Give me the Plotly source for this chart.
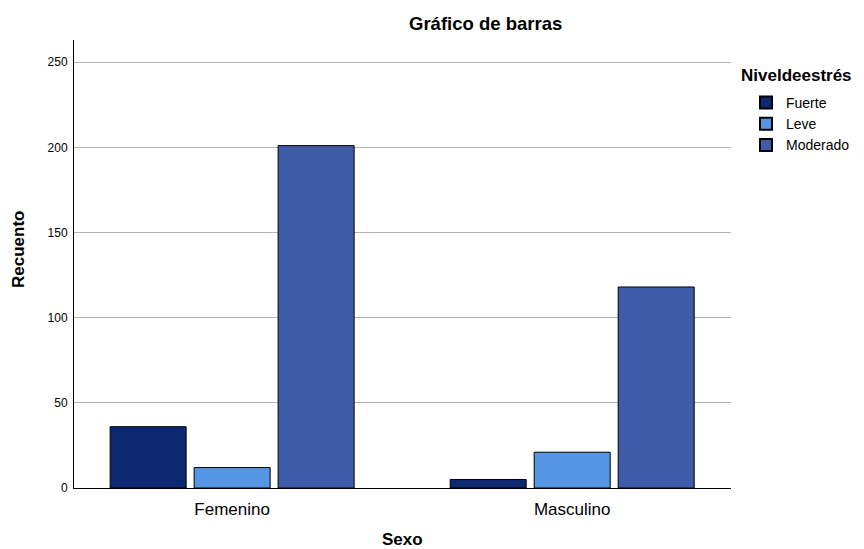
import plotly.graph_objects as go

categories = ["Femenino", "Masculino"]
series_names = ["Fuerte", "Leve", "Moderado"]
fuerte = [36, 5]
leve = [12, 21]
moderado = [201, 118]
colors = ["#0c2870", "#5596e4", "#3f5ca9"]

values = [fuerte, leve, moderado]
fig = go.Figure()
for name, vals, col in zip(series_names, values, colors):
    fig.add_trace(go.Bar(
        x=categories, y=vals, name=name,
        marker=dict(color=col, line=dict(color="#000000", width=1)),
    ))

FONT = "Liberation Sans, Arial, sans-serif"
OFF = 8  # page body margin
W, H = 864 - OFF, 549 - OFF
L, T = 74 - OFF, 40 - OFF
R = W - (731 - OFF)
B = H - (488 - OFF)
PW, PH = W - L - R, H - T - B


def px(x):  # page x -> paper
    return (x - OFF - L) / PW


def py(y):  # page y -> paper
    return 1 - (y - OFF - T) / PH


fig.update_layout(
    width=W, height=H,
    margin=dict(l=L, r=R, t=T, b=B, autoexpand=False),
    paper_bgcolor="white", plot_bgcolor="white",
    barmode="group", bargap=0.259, bargroupgap=0.095,
    font=dict(family=FONT, color="#000000"),
    showlegend=True,
    legend=dict(
        font=dict(size=14, family=FONT),
        x=px(746), xanchor="left", y=py(87), yanchor="top",
        tracegroupgap=0, itemsizing="constant",
    ),
    annotations=[
        dict(text="<b>Gráfico de barras</b>", xref="paper", yref="paper",
             x=px(485), y=py(24), xanchor="center", yanchor="middle",
             showarrow=False, font=dict(size=18.5, family=FONT)),
        dict(text="<b>Niveldeestrés</b>", xref="paper", yref="paper",
             x=px(739), y=py(75), xanchor="left", yanchor="middle",
             showarrow=False, font=dict(size=17, family=FONT)),
        dict(text="<b>Sexo</b>", xref="paper", yref="paper",
             x=px(402), y=py(539), xanchor="center", yanchor="middle",
             showarrow=False, font=dict(size=17, family=FONT)),
        dict(text="<b>Recuento</b>", xref="paper", yref="paper",
             x=px(18), y=py(250), xanchor="center", yanchor="middle", textangle=-90,
             showarrow=False, font=dict(size=17, family=FONT)),
    ],
)
fig.update_xaxes(
    range=[-0.465, 1.467], showgrid=False, showline=True, linecolor="#000000", linewidth=1,
    ticks="", tickfont=dict(size=17, family=FONT), ticklabelstandoff=6, automargin=False,
)
fig.update_yaxes(
    range=[0, 263], tickvals=[0, 50, 100, 150, 200, 250], showgrid=True, gridcolor="#b4b4b4",
    gridwidth=1, zeroline=False, showline=True, linecolor="#000000", linewidth=1,
    ticks="", ticklabelstandoff=3, tickfont=dict(size=12, family=FONT),
    automargin=False,
)
fig.write_html("out.html")
